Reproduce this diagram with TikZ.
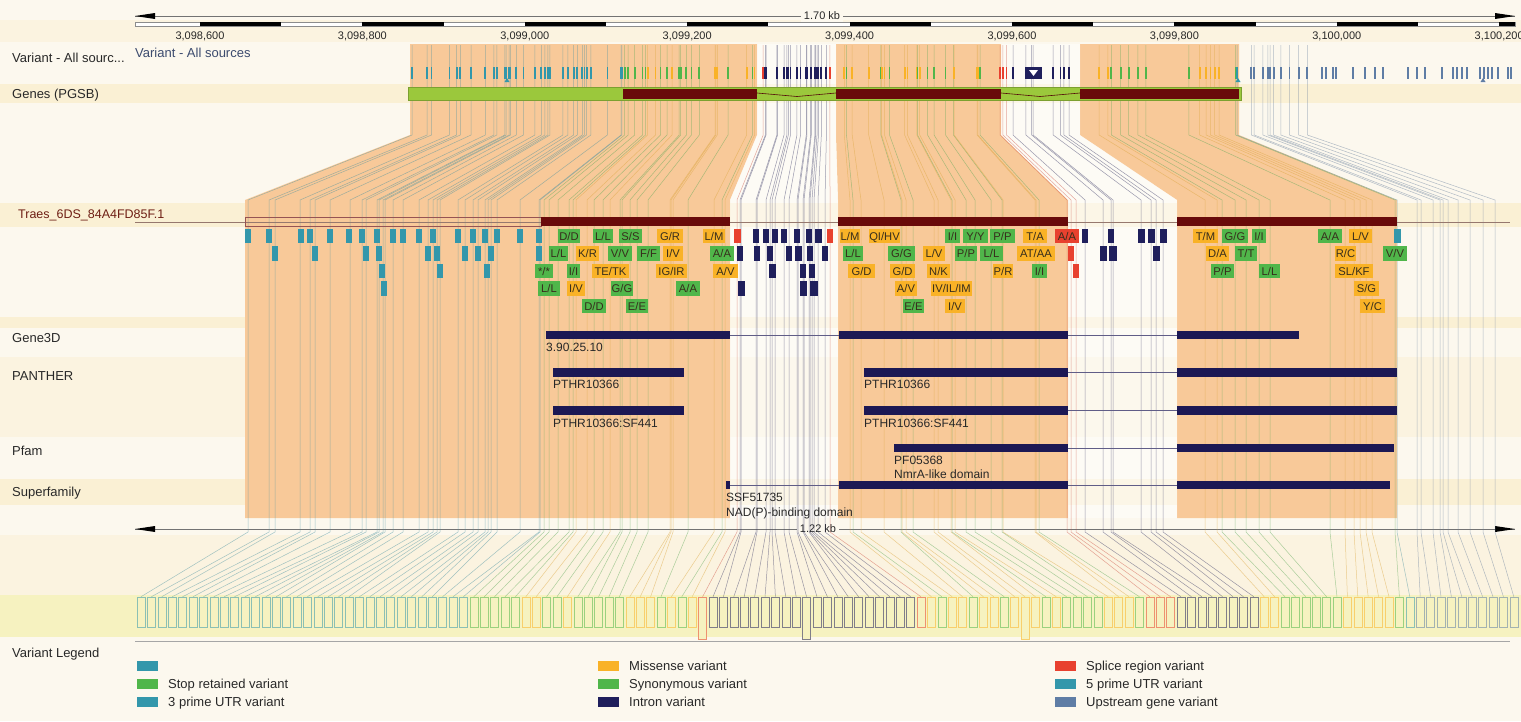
\documentclass[tikz,border=0pt]{standalone}
\usepackage{fontspec}
\setmainfont{Liberation Sans}
\newcommand\vsl{/}
\definecolor{bgc}{RGB}{252,248,238}
\definecolor{bandc}{RGB}{250,240,212}
\definecolor{bandlt}{RGB}{251,243,224}
\definecolor{boxband}{RGB}{246,242,192}
\definecolor{peach}{RGB}{248,201,153}
\definecolor{vteal}{RGB}{51,151,171}
\definecolor{vgreen}{RGB}{80,182,74}
\definecolor{vorange}{RGB}{249,178,39}
\definecolor{vred}{RGB}{232,65,47}
\definecolor{vnavy}{RGB}{31,31,92}
\definecolor{vblue}{RGB}{95,125,165}
\definecolor{exonred}{RGB}{105,10,10}
\definecolor{genegreen}{RGB}{155,200,60}
\definecolor{domnavy}{RGB}{28,24,84}
\definecolor{labc}{RGB}{40,40,40}
\definecolor{srcblue}{RGB}{60,75,110}
\definecolor{traesc}{RGB}{110,30,20}
\definecolor{boxtext}{RGB}{55,45,28}
\definecolor{trline}{RGB}{150,120,110}
\usetikzlibrary{arrows.meta}
\def\varlist{248/vteal,269/vteal,275/vteal,300/vteal,310/vteal,315/vteal,330/vteal,350/vteal,362/vteal,366/vteal,377/vteal,379/vteal,383/vteal,385/vteal,393/vteal,403/vteal,419/vteal,428/vteal,433/vteal,437/vteal,440/vteal,458/vteal,465/vteal,473/vteal,478/vteal,485/vteal,488/vteal,491/vteal,497/vteal,520/vteal,539/vteal,540/vteal,%
544/vgreen,549/vgreen,558/vgreen,569/vgreen,573/vgreen,576/vorange,587/vorange,594/vgreen,603/vgreen,610/vorange,620/vgreen,622/vgreen,630/vgreen,637/vgreen,648/vgreen,670/vorange,671/vorange,673/vorange,688/vgreen,714/vorange,722/vgreen,725/vorange,737/vred,%
740/vnavy,741/vnavy,756/vnavy,757/vnavy,766/vnavy,770/vnavy,772/vnavy,775/vnavy,784/vnavy,789/vnavy,797/vnavy,798/vnavy,803/vnavy,804/vnavy,809/vnavy,810/vnavy,812/vnavy,814/vnavy,818/vnavy,825/vnavy,830/vred,%
850/vorange,853/vgreen,861/vorange,884/vorange,901/vgreen,902/vorange,906/vorange,913/vgreen,934/vorange,938/vorange,951/vorange,952/vgreen,955/vorange,966/vgreen,975/vgreen,991/vgreen,1002/vgreen,1003/vorange,1035/vorange,1036/vorange,1039/vgreen,1067/vred,1071/vred,1076/vred,%
1085/vnavy,1103/vnavy,1111/vnavy,1113/vnavy,1141/vnavy,1151/vnavy,1156/vnavy,1163/vnavy,%
1205/vorange,1217/vorange,1222/vgreen,1235/vgreen,1246/vgreen,1259/vgreen,1270/vgreen,1330/vgreen,1345/vorange,1354/vorange,1360/vorange,1366/vorange,1372/vorange,1395/vgreen,1397/vteal,%
1417/vblue,1421/vblue,1433/vblue,1440/vblue,1443/vblue,1448/vblue,1458/vblue,1470/vblue,1483/vblue,1495/vblue}
\def\boxlist{245/251/1/vteal/{},266/272/1/vteal/{},298/304/1/vteal/{},307/313/1/vteal/{},327/333/1/vteal/{},346/352/1/vteal/{},359/365/1/vteal/{},374/380/1/vteal/{},390/396/1/vteal/{},400/406/1/vteal/{},416/422/1/vteal/{},430/436/1/vteal/{},455/461/1/vteal/{},470/476/1/vteal/{},482/488/1/vteal/{},494/500/1/vteal/{},517/523/1/vteal/{},536/542/1/vteal/{},%
272/278/2/vteal/{},312/318/2/vteal/{},363/369/2/vteal/{},376/382/2/vteal/{},425/431/2/vteal/{},434/440/2/vteal/{},462/468/2/vteal/{},475/481/2/vteal/{},488/494/2/vteal/{},536/542/2/vteal/{},%
379/385/3/vteal/{},437/443/3/vteal/{},484/490/3/vteal/{},381/387/4/vteal/{},%
558/580/1/vgreen/D\vsl D,593/613/1/vgreen/L\vsl L,619/642/1/vgreen/S\vsl S,657/683/1/vorange/G\vsl R,703/725/1/vorange/L\vsl M,734/741/1/vred/{},%
549/568/2/vgreen/L\vsl L,576/599/2/vorange/K\vsl R,608/632/2/vgreen/V\vsl V,637/660/2/vgreen/F\vsl F,663/683/2/vorange/I\vsl V,710/734/2/vgreen/A\vsl A,%
535/553/3/vgreen/*\vsl *,567/580/3/vgreen/I\vsl I,592/629/3/vorange/TE\vsl TK,656/687/3/vorange/IG\vsl IR,713/738/3/vorange/A\vsl V,%
538/560/4/vgreen/L\vsl L,567/585/4/vorange/I\vsl V,611/633/4/vgreen/G\vsl G,676/700/4/vgreen/A\vsl A,%
582/606/5/vgreen/D\vsl D,626/648/5/vgreen/E\vsl E,%
753/759/1/vnavy/{},763/769/1/vnavy/{},772/778/1/vnavy/{},781/787/1/vnavy/{},794/800/1/vnavy/{},806/812/1/vnavy/{},815/822/1/vnavy/{},827/833/1/vred/{},%
737/743/2/vnavy/{},754/760/2/vnavy/{},767/773/2/vnavy/{},786/792/2/vnavy/{},795/802/2/vnavy/{},807/813/2/vnavy/{},822/828/2/vnavy/{},%
769/776/3/vnavy/{},800/806/3/vnavy/{},809/815/3/vnavy/{},738/745/4/vnavy/{},800/807/4/vnavy/{},810/818/4/vnavy/{},%
840/860/1/vorange/L\vsl M,869/900/1/vorange/QI\vsl HV,945/960/1/vgreen/I\vsl I,963/988/1/vgreen/Y\vsl Y,990/1015/1/vgreen/P\vsl P,1023/1047/1/vorange/T\vsl A,1055/1079/1/vred/A\vsl A,%
843/863/2/vgreen/L\vsl L,888/915/2/vgreen/G\vsl G,923/945/2/vorange/L\vsl V,955/977/2/vgreen/P\vsl P,980/1003/2/vgreen/L\vsl L,1017/1055/2/vorange/AT\vsl AA,1068/1074/2/vred/{},%
848/875/3/vorange/G\vsl D,890/915/3/vorange/G\vsl D,927/950/3/vorange/N\vsl K,993/1013/3/vorange/P\vsl R,1032/1047/3/vgreen/I\vsl I,1073/1079/3/vred/{},%
895/917/4/vorange/A\vsl V,931/972/4/vorange/IV\vsl IL\vsl IM,903/924/5/vgreen/E\vsl E,945/965/5/vorange/I\vsl V,%
1082/1088/1/vnavy/{},1108/1114/1/vnavy/{},1138/1145/1/vnavy/{},1148/1155/1/vnavy/{},1160/1167/1/vnavy/{},1100/1107/2/vnavy/{},1109/1117/2/vnavy/{},1153/1160/2/vnavy/{},%
1193/1218/1/vorange/T\vsl M,1222/1248/1/vgreen/G\vsl G,1252/1266/1/vgreen/I\vsl I,1318/1342/1/vgreen/A\vsl A,1349/1372/1/vorange/L\vsl V,1394/1401/1/vteal/{},%
1206/1229/2/vorange/D\vsl A,1235/1257/2/vgreen/T\vsl T,1335/1356/2/vorange/R\vsl C,1383/1407/2/vgreen/V\vsl V,%
1211/1234/3/vgreen/P\vsl P,1259/1280/3/vgreen/L\vsl L,1335/1373/3/vorange/SL\vsl KF,1354/1379/4/vorange/S\vsl G,1360/1385/5/vorange/Y\vsl C}
\begin{document}
\begin{tikzpicture}[x=1pt,y=-1pt,
  font=\fontsize{13}{15}\selectfont,
  conn/.style={line width=0.5pt, opacity=0.5},
  tracklab/.style={anchor=base west, inner sep=0pt, text=labc},
  domlab/.style={anchor=base west, inner sep=0pt, text=labc, font=\fontsize{12}{14}\selectfont},
  rulab/.style={anchor=base, inner sep=0pt, text=labc, font=\fontsize{11}{13}\selectfont},
  kblab/.style={inner sep=2.5pt, fill=bgc, text=labc, font=\fontsize{11}{13}\selectfont},
  boxlab/.style={anchor=base, inner sep=0pt, text=boxtext, font=\fontsize{11.2}{12}\selectfont},
  bbox/.style={draw, line width=0.6pt, minimum width=8pt, minimum height=30pt, inner sep=0pt, fill=boxband},
  swatch/.style={minimum width=21pt, minimum height=10pt, inner sep=0pt},
  legtext/.style={anchor=base west, inner sep=0pt, text=labc, font=\fontsize{13}{15}\selectfont},
  rulerline/.style={draw=black!55, line width=0.6pt},
  domline/.style={draw=domnavy!70, line width=0.6pt},
  arrowhd/.style={fill=black}
]
\useasboundingbox (0,0) rectangle (1521,721);
% background and bands
\fill[bgc] (0,0) rectangle (1521,721);
\fill[bandlt] (0,20) rectangle (1521,42);
\fill[bandc] (0,84) rectangle (1521,103);
\fill[bandc] (0,203) rectangle (1521,227);
\fill[bandc] (0,317) rectangle (1521,328);
\fill[bandlt] (0,357) rectangle (1521,437);
\fill[bandc] (0,479) rectangle (1521,505);
\fill[bandlt] (0,535) rectangle (1521,595);
\fill[boxband] (0,595) rectangle (1521,637);
% exon mapping regions
\fill[peach] (410,44) -- (757,44) -- (757,135) -- (730,200) -- (730,518) -- (245,518) -- (245,200) -- (410,135) -- cycle;
\fill[peach] (836,44) -- (1001,44) -- (1001,135) -- (1068,200) -- (1068,518) -- (838,518) -- (838,200) -- (836,135) -- cycle;
\fill[peach] (1080,44) -- (1239,44) -- (1239,135) -- (1397,200) -- (1397,518) -- (1177,518) -- (1177,200) -- (1080,135) -- cycle;
\fill[white, opacity=0.45] (757,44) -- (836,44) -- (836,135) -- (838,200) -- (838,518) -- (730,518) -- (730,200) -- (757,135) -- cycle;
\fill[white, opacity=0.45] (1001,44) -- (1080,44) -- (1080,135) -- (1177,200) -- (1177,518) -- (1068,518) -- (1068,200) -- (1001,135) -- cycle;
% bottom ruler
\coordinate (bl) at (135,529);
\coordinate (br) at (1515,529);
\draw[rulerline] (bl) -- (br);
\fill[arrowhd] (bl) -- (155,526) -- (155,532) -- cycle;
\fill[arrowhd] (br) -- (1495,526) -- (1495,532) -- cycle;
\node[kblab] (kb2) at (818,529) {1.22 kb};
\draw[draw=black!35, line width=0.8pt] (135,641) -- (1510,641);
% connectors and bottom boxes
\foreach \tx/\cc [count=\i] in \varlist {
  \pgfmathsetmacro\g{410+(\tx-245)/1.393}
  \pgfmathsetmacro\bx{141+(\i-1)*10.4}
  \pgfmathtruncatemacro\tall{((\i==55)||(\i==65)||(\i==86))?1:0}
  \ifnum\tall=1
    \node[bbox, minimum height=42pt, draw=\cc!55!boxband] (bb\i) at (\bx,618) {};
  \else
    \node[bbox, draw=\cc!55!boxband] (bb\i) at (\bx,612) {};
  \fi
  \coordinate (vt\i) at (\g,45);
  \draw[conn, draw=\cc!75!gray] (vt\i) -- (\g,135) -- (\tx,200) -- (\tx,532) -- (bb\i.north);
}
% genes track
\fill[genegreen, draw=genegreen!80!black, line width=0.5pt] (408,87) rectangle (1241,100);
\fill[exonred] (623,89) rectangle (757,99);
\fill[exonred] (836,89) rectangle (1001,99);
\fill[exonred] (1080,89) rectangle (1239,99);
\draw[exonred!80!black, line width=0.6pt] (757,93) -- (797,96.5) -- (836,93);
\draw[exonred!80!black, line width=0.6pt] (1001,93) -- (1040,96.5) -- (1080,93);
% variant ticks
\foreach \tx/\cc in \varlist {
  \pgfmathsetmacro\g{410+(\tx-245)/1.393}
  \fill[\cc] (\g-0.9,67) rectangle (\g+0.9,79);
}
\foreach \gx in {1322,1326,1333,1336,1353,1365,1375,1383,1408,1417,1425,1442,1453,1457,1462,1467,1480,1484,1488,1492,1498,1508,1511} {
  \fill[vblue] (\gx-0.9,67) rectangle (\gx+0.9,79);
}
\fill[vteal] (504.5,82) -- (509.5,82) -- (507,78) -- cycle;
\fill[vteal] (1235.5,82) -- (1240.5,82) -- (1238,78) -- cycle;
\fill[vblue] (1480.5,82) -- (1485.5,82) -- (1483,78) -- cycle;
\fill[vnavy] (1025,67) rectangle (1042,79);
\fill[white] (1029,70) -- (1038,70) -- (1033.5,76) -- cycle;
% transcript track
\draw[draw=trline, line width=0.6pt] (135,222) -- (1510,222);
\draw[draw=exonred!70, line width=0.6pt] (245,217) rectangle (541,226);
\fill[exonred] (541,217) rectangle (730,226);
\fill[exonred] (838,217) rectangle (1068,226);
\fill[exonred] (1177,217) rectangle (1397,226);
% variant consequence boxes
\foreach \xa/\xb/\rr/\cc/\lab [count=\k] in \boxlist {
  \pgfmathsetmacro\yc{236+(\rr-1)*17.5}
  \fill[\cc] (\xa,\yc-7.25) rectangle (\xb,\yc+7.25);
  \node[boxlab] (vl\k) at ({(\xa+\xb)/2},\yc+4) {\lab};
}
% Gene3D
\fill[domnavy] (546,331) rectangle (730,339);
\fill[domnavy] (839,331) rectangle (1068,339);
\fill[domnavy] (1177,331) rectangle (1299,339);
\draw[domline] (730,335) -- (839,335);
\draw[domline] (1068,335) -- (1177,335);
\node[domlab] (g3d) at (546,351) {3.90.25.10};
% PANTHER
\fill[domnavy] (553,368) rectangle (684,377);
\fill[domnavy] (864,368) rectangle (1068,377);
\fill[domnavy] (1177,368) rectangle (1397,377);
\draw[domline] (1068,372.5) -- (1177,372.5);
\node[domlab] (p1a) at (553,388) {PTHR10366};
\node[domlab] (p1b) at (864,388) {PTHR10366};
\fill[domnavy] (553,406) rectangle (684,415);
\fill[domnavy] (864,406) rectangle (1068,415);
\fill[domnavy] (1177,406) rectangle (1397,415);
\draw[domline] (1068,410.5) -- (1177,410.5);
\node[domlab] (p2a) at (553,427) {PTHR10366:SF441};
\node[domlab] (p2b) at (864,427) {PTHR10366:SF441};
% Pfam
\fill[domnavy] (894,444) rectangle (1068,452);
\fill[domnavy] (1177,444) rectangle (1394,452);
\draw[domline] (1068,448) -- (1177,448);
\node[domlab] (pf1) at (894,464) {PF05368};
\node[domlab] (pf2) at (894,478) {NmrA-like domain};
% Superfamily
\fill[domnavy] (726,481) rectangle (730,489);
\fill[domnavy] (839,481) rectangle (1068,489);
\fill[domnavy] (1177,481) rectangle (1390,489);
\draw[domline] (730,485) -- (839,485);
\draw[domline] (1068,485) -- (1177,485);
\node[domlab] (sf1) at (726,501) {SSF51735};
\node[domlab] (sf2) at (726,516) {NAD(P)-binding domain};
% top ruler
\coordinate (tl) at (135,16);
\coordinate (tr) at (1515,16);
\draw[rulerline] (tl) -- (tr);
\fill[arrowhd] (tl) -- (155,13) -- (155,19) -- cycle;
\fill[arrowhd] (tr) -- (1495,13) -- (1495,19) -- cycle;
\node[kblab] (kb1) at (822,16) {1.70 kb};
\draw[draw=black!45, fill=white, line width=0.5pt] (135,22) rectangle (1515,26);
\foreach \k in {0,...,7} { \fill[black] (200+\k*162.4,22) rectangle (281.2+\k*162.4,26); }
\fill[black] (1499,22) rectangle (1515,26);
\foreach \k/\lab in {0/{3,098,600},1/{3,098,800},2/{3,099,000},3/{3,099,200},4/{3,099,400},5/{3,099,600},6/{3,099,800},7/{3,100,000},8/{3,100,200}} {
  \node[rulab] (tk\k) at (200+\k*162.4,39) {\lab};
}
% track labels
\node[tracklab] (lvar) at (12,62) {Variant - All sourc...};
\node[tracklab, text=srcblue] (lvar2) at (135,57) {Variant - All sources};
\node[tracklab] (lgenes) at (12,98) {Genes (PGSB)};
\node[tracklab, text=traesc, font=\fontsize{12.5}{14}\selectfont] (ltraes) at (18,218) {Traes\_6DS\_84A4FD85F.1};
\node[tracklab] (lg3d) at (12,342) {Gene3D};
\node[tracklab] (lpan) at (12,380) {PANTHER};
\node[tracklab] (lpfam) at (12,455) {Pfam};
\node[tracklab] (lsup) at (12,496) {Superfamily};
% legend
\node[tracklab] (lleg) at (12,657) {Variant Legend};
\foreach \sx/\sy/\cc/\lab [count=\n] in {137/666/vteal/{},137/684/vgreen/Stop retained variant,137/702/vteal/3 prime UTR variant,598/666/vorange/Missense variant,598/684/vgreen/Synonymous variant,598/702/vnavy/Intron variant,1055/666/vred/Splice region variant,1055/684/vteal/5 prime UTR variant,1055/702/vblue/Upstream gene variant} {
  \node[swatch, fill=\cc] (sw\n) at (\sx+10.5,\sy) {};
  \node[legtext] (lt\n) at (\sx+31,\sy+4.65) {\lab};
}
\end{tikzpicture}
\end{document}
